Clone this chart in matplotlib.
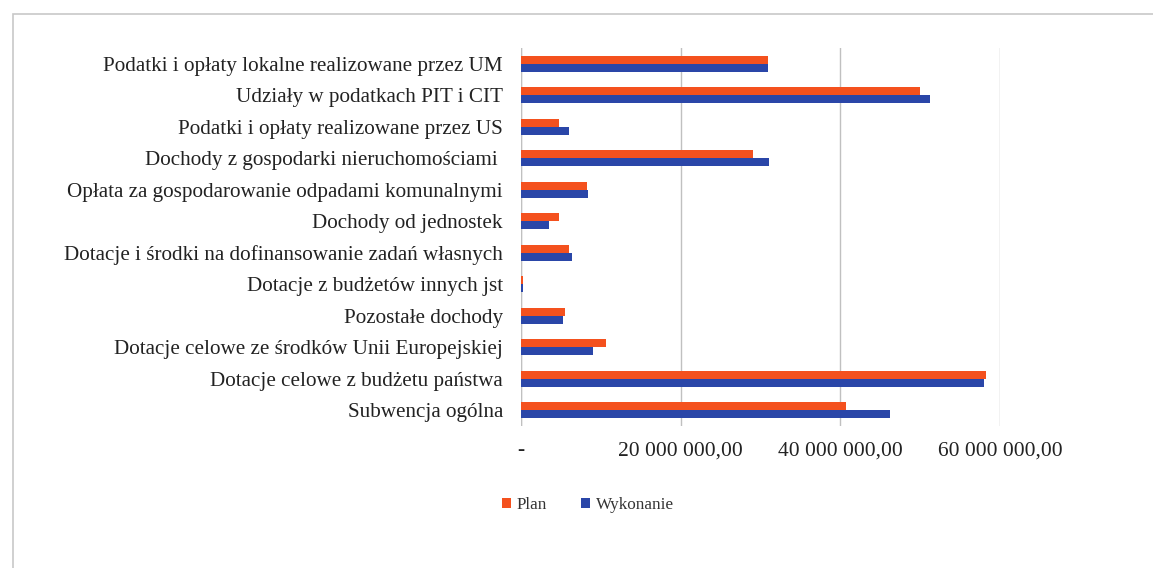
import matplotlib
matplotlib.use("Agg")
import matplotlib.pyplot as plt
from matplotlib.patches import Rectangle
from matplotlib.ticker import FixedLocator, FixedFormatter
import numpy as np

categories = [
    "Podatki i opłaty lokalne realizowane przez UM",
    "Udziały w podatkach PIT i CIT",
    "Podatki i opłaty realizowane przez US",
    "Dochody z gospodarki nieruchomościami ",
    "Opłata za gospodarowanie odpadami komunalnymi",
    "Dochody od jednostek",
    "Dotacje i środki na dofinansowanie zadań własnych",
    "Dotacje z budżetów innych jst",
    "Pozostałe dochody",
    "Dotacje celowe ze środków Unii Europejskiej",
    "Dotacje celowe z budżetu państwa",
    "Subwencja ogólna",
]
plan = [30.9e6, 50.0e6, 4.8e6, 29.0e6, 8.3e6, 4.8e6, 6.0e6, 0.3e6, 5.5e6, 10.7e6, 58.2e6, 40.7e6]
wykonanie = [31.0e6, 51.2e6, 6.0e6, 31.1e6, 8.35e6, 3.5e6, 6.4e6, 0.2e6, 5.3e6, 9.0e6, 58.0e6, 46.2e6]
tick_values = [0, 20e6, 40e6, 60e6]
tick_labels = ["-", "20 000 000,00", "40 000 000,00", "60 000 000,00"]
series_names = ["Plan", "Wykonanie"]
colors = ["#f4511e", "#2a46a8"]

plt.rcParams['font.family'] = ['Liberation Serif', 'DejaVu Serif']

W, H = 1153, 568
fig = plt.figure(figsize=(W / 100, H / 100), dpi=100)
fig.patch.set_facecolor("white")

# outer frame
fig.add_artist(Rectangle((13 / W, -0.05), 1.2, 1 - 14 / H + 0.05, transform=fig.transFigure,
                         fill=False, edgecolor="#c8c8c8", linewidth=1.2))

left, right = 521 / W, 1000 / W
top, bottom = 1 - 48 / H, 1 - 426 / H
ax = fig.add_axes([left, bottom, right - left, top - bottom])

n = len(categories)
y = np.arange(n)
h = 0.25
ax.barh(y - h / 2, plan, height=h, color=colors[0], label=series_names[0], zorder=3)
ax.barh(y + h / 2, wykonanie, height=h, color=colors[1], label=series_names[1], zorder=3)

ax.set_ylim(n - 0.5, -0.5)
ax.set_xlim(0, 60e6)
ax.set_yticks(y)
ax.set_yticklabels(categories, fontsize=15.2, color="#222222")
ax.xaxis.set_major_locator(FixedLocator(tick_values))
ax.xaxis.set_major_formatter(FixedFormatter(tick_labels))
ax.tick_params(axis="x", labelsize=15.5, length=0, pad=11, colors="#222222")
ax.tick_params(axis="y", length=0, pad=13)

for s in ax.spines.values():
    s.set_visible(False)
ax.grid(axis="x", color="#c0c0c0", linewidth=1.0, zorder=0)
ax.axvline(0, color="#d0d0d0", linewidth=1.0, zorder=1)

leg = fig.legend(loc="center", bbox_to_anchor=(588 / W, 1 - 505 / H), ncol=2, frameon=False,
                 fontsize=12.3, handlelength=0.5, handleheight=0.5, handletextpad=0.35,
                 columnspacing=2.0)
for t in leg.get_texts():
    t.set_color("#333333")

fig.savefig("out.png", dpi=100, facecolor="white")
